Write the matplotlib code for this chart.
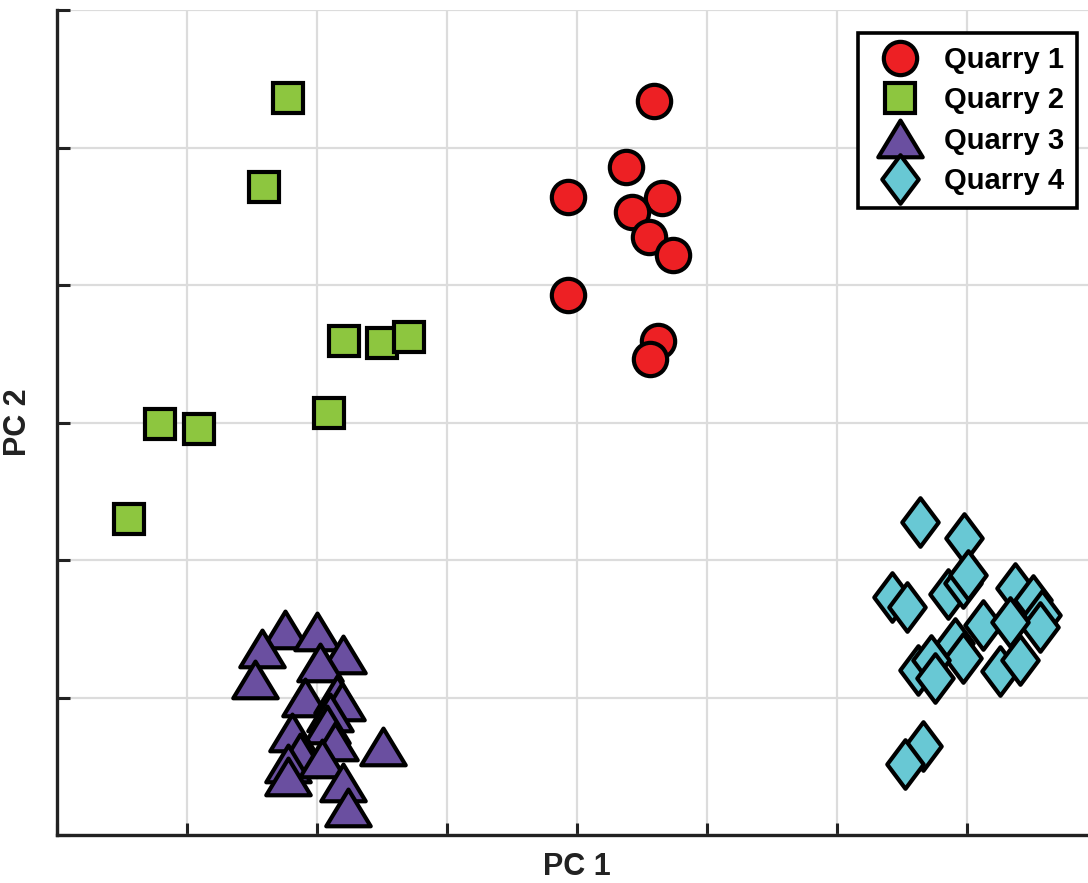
import matplotlib
matplotlib.use("Agg")
import matplotlib.pyplot as plt
from matplotlib.markers import MarkerStyle
from matplotlib.path import Path

# =========================
# DATA (PC scores, arbitrary units)
# =========================

q1_x = [4.59, 4.38, 3.93, 4.65, 4.42, 4.55, 4.74, 3.93, 4.62, 4.56]
q1_y = [5.34, 4.86, 4.64, 4.63, 4.53, 4.35, 4.22, 3.93, 3.59, 3.46]

q2_x = [1.78, 1.59, 2.21, 2.50, 2.71, 0.79, 1.09, 2.09, 0.55]
q2_y = [5.36, 4.71, 3.59, 3.58, 3.62, 2.99, 2.95, 3.07, 2.30]

q3_x = [1.75, 2.00, 1.58, 2.20, 2.02, 1.52, 1.91, 2.15, 2.19, 2.10,
        2.08, 1.81, 2.14, 2.51, 1.87, 1.78, 2.04, 1.78, 2.20, 2.24]
q3_y = [1.49, 1.48, 1.35, 1.31, 1.25, 1.13, 1.00, 1.02, 0.97, 0.89,
        0.80, 0.74, 0.68, 0.64, 0.60, 0.52, 0.55, 0.42, 0.38, 0.20]

q4_x = [6.64, 6.98, 6.42, 6.54, 6.85, 6.97, 7.01, 7.37, 7.51, 7.58, 7.56,
        7.12, 7.33, 6.91, 6.97, 6.62, 6.72, 6.75, 7.25, 7.41, 6.66, 6.52]
q4_y = [2.28, 2.16, 1.73, 1.66, 1.75, 1.83, 1.89, 1.80, 1.71, 1.60, 1.51,
        1.53, 1.55, 1.40, 1.29, 1.20, 1.27, 1.14, 1.19, 1.27, 0.65, 0.52]

labels = ["Quarry 1", "Quarry 2", "Quarry 3", "Quarry 4"]
colors = ["#ED2024", "#8DC63F", "#6A4FA0", "#68C8D4"]

# =========================
# MARKERS
# =========================

tri = Path([(-1, -0.8), (1, -0.8), (0, 0.85), (-1, -0.8)],
           [Path.MOVETO, Path.LINETO, Path.LINETO, Path.CLOSEPOLY])
dia = Path([(0, 1), (0.75, 0), (0, -1), (-0.75, 0), (0, 1)],
           [Path.MOVETO, Path.LINETO, Path.LINETO, Path.LINETO, Path.CLOSEPOLY])

markers = [MarkerStyle("o"), MarkerStyle("s", joinstyle="miter"),
           MarkerStyle(tri, joinstyle="miter"), MarkerStyle(dia, joinstyle="miter")]
sizes = [24, 21.5, 32, 35]

# =========================
# FIGURE
# =========================

plt.rcParams["font.family"] = ["Liberation Sans", "DejaVu Sans"]

fig = plt.figure(figsize=(10.88, 8.83), dpi=100)
ax = fig.add_axes([57 / 1088, 48 / 883, 1040 / 1088, 825 / 883])

data = [(q1_x, q1_y), (q2_x, q2_y), (q3_x, q3_y), (q4_x, q4_y)]
for (xs, ys), lab, col, mk, ms in zip(data, labels, colors, markers, sizes):
    ax.plot(xs, ys, linestyle="none", marker=mk, markersize=ms,
            markerfacecolor=col, markeredgecolor="black",
            markeredgewidth=3.0, label=lab, clip_on=False)

ax.set_xlim(0, 8)
ax.set_ylim(0, 6)
ax.set_xticks(range(0, 9))
ax.set_yticks(range(0, 7))
ax.set_xticklabels([])
ax.set_yticklabels([])
ax.tick_params(direction="in", length=9, width=2.2, colors="#222222")

ax.grid(True, color="#dcdcdc", linewidth=1.6)
ax.set_axisbelow(True)

for side in ["top", "right"]:
    ax.spines[side].set_visible(False)
for side in ["left", "bottom"]:
    ax.spines[side].set_linewidth(2.4)
    ax.spines[side].set_color("#222222")

ax.set_xlabel("PC 1", fontsize=22, fontweight="bold", color="#222222", labelpad=9)
ax.set_ylabel("PC 2", fontsize=22, fontweight="bold", color="#222222", labelpad=14)

leg = ax.legend(loc="upper right", bbox_to_anchor=(0.981, 0.972),
                borderaxespad=0, fancybox=False, framealpha=1,
                edgecolor="black", handlelength=2.0, handletextpad=0.5,
                borderpad=0.45, labelspacing=0.42,
                prop={"size": 21, "weight": "bold"})
leg.get_frame().set_linewidth(2.6)

plt.savefig("out.png", dpi=100)
